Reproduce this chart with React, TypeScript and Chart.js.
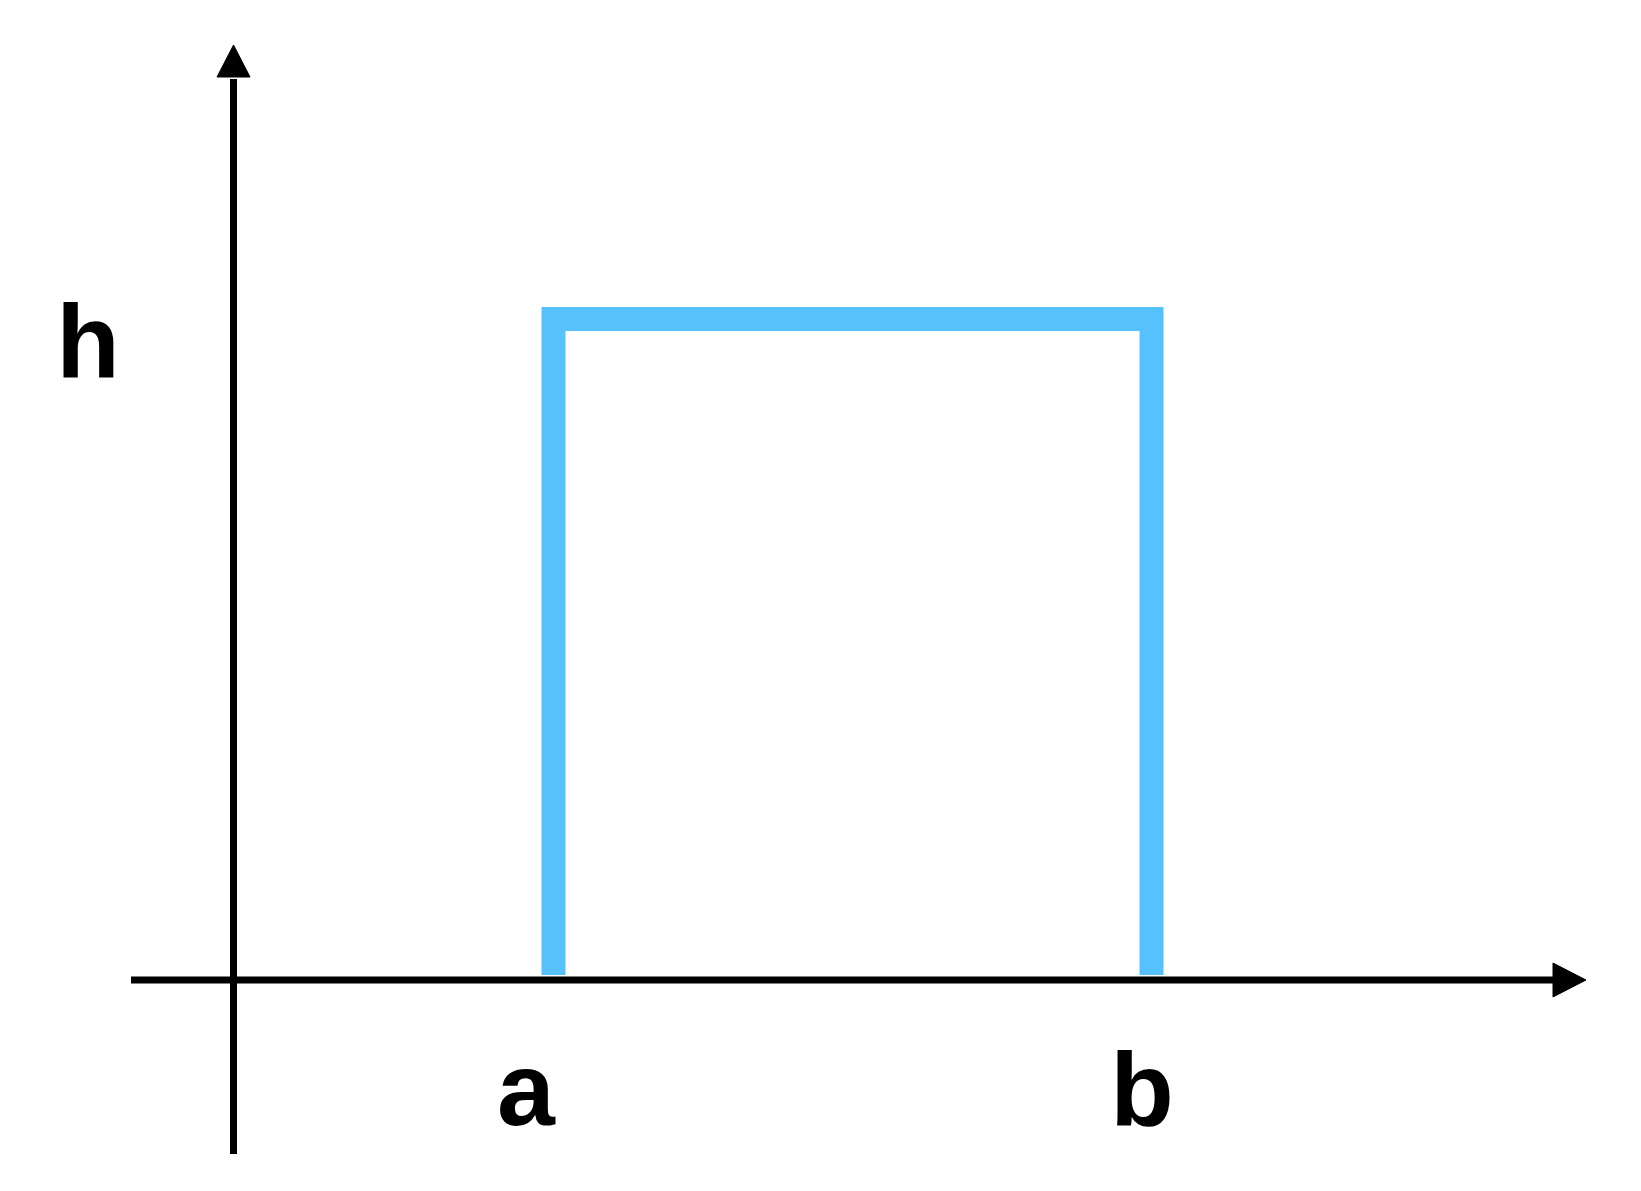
import React, { useEffect, useRef } from "react";
import { Chart, registerables } from "chart.js";

Chart.register(...registerables);

// Data (in abstract units)
const boundLabels = ["a", "b"];
const boundValues = [3.2, 9.18];
const heightLabel = "h";
const heightValue = 6.61;
const rectBase = 0.05;

// Axis extents
const xAxisStart = -1.025;
const xAxisEnd = 13.525;
const yAxisStart = -1.74;
const yAxisEnd = 9.35;

// Arrow heads (length, half-width) in data units
const xArrowLen = 0.33;
const xArrowHalf = 0.17;
const yArrowLen = 0.32;
const yArrowHalf = 0.165;

// Label anchor positions (data units)
const labelX = [2.925, 9.085];
const labelY = [-1.45, -1.45];
const hLabelX = -1.455;
const hLabelY = 6.03;

const BLUE = "#57C1FD";

const labelPlugin = {
  id: "labels",
  afterDatasetsDraw(chart: any) {
    const { ctx, scales } = chart;
    ctx.save();
    ctx.fillStyle = "#000";
    ctx.font = "bold 104px 'Liberation Sans', Arial, sans-serif";
    ctx.textAlign = "center";
    ctx.textBaseline = "alphabetic";
    boundLabels.forEach((t, i) => {
      ctx.fillText(t, scales.x.getPixelForValue(labelX[i]), scales.y.getPixelForValue(labelY[i]));
    });
    ctx.fillText(heightLabel, scales.x.getPixelForValue(hLabelX), scales.y.getPixelForValue(hLabelY));
    ctx.restore();
  },
};

export default function App() {
  const ref = useRef<HTMLCanvasElement>(null);
  useEffect(() => {
    if (!ref.current) return;
    const xBase = xAxisEnd - xArrowLen;
    const yBase = yAxisEnd - yArrowLen;
    const chart = new Chart(ref.current, {
      type: "line",
      data: {
        datasets: [
          {
            data: [
              { x: boundValues[0], y: rectBase },
              { x: boundValues[0], y: heightValue },
              { x: boundValues[1], y: heightValue },
              { x: boundValues[1], y: rectBase },
            ],
            borderColor: BLUE,
            borderWidth: 24,
            borderJoinStyle: "miter",
            borderCapStyle: "butt",
            pointRadius: 0,
            fill: false,
            tension: 0,
          },
          {
            data: [
              { x: xAxisStart, y: 0 },
              { x: xBase + 0.02, y: 0 },
            ],
            borderColor: "#000",
            borderWidth: 7,
            borderCapStyle: "butt",
            pointRadius: 0,
            fill: false,
            clip: false,
          },
          {
            data: [
              { x: 0, y: yAxisStart },
              { x: 0, y: yBase - 0.02 },
            ],
            borderColor: "#000",
            borderWidth: 7,
            borderCapStyle: "butt",
            pointRadius: 0,
            fill: false,
            clip: false,
          },
          {
            data: [
              { x: xBase, y: xArrowHalf },
              { x: xAxisEnd, y: 0 },
              { x: xBase, y: -xArrowHalf },
              { x: xBase, y: xArrowHalf },
            ],
            borderColor: "#000",
            backgroundColor: "#000",
            borderWidth: 1,
            pointRadius: 0,
            fill: "shape",
            clip: false,
          },
          {
            data: [
              { x: -yArrowHalf, y: yBase },
              { x: 0, y: yAxisEnd },
              { x: yArrowHalf, y: yBase },
              { x: -yArrowHalf, y: yBase },
            ],
            borderColor: "#000",
            backgroundColor: "#000",
            borderWidth: 1,
            pointRadius: 0,
            fill: "shape",
            clip: false,
          },
        ],
      },
      options: {
        animation: false,
        responsive: false,
        layout: { padding: { left: 131, right: 55, top: 45, bottom: 37 } },
        plugins: { legend: { display: false }, tooltip: { enabled: false }, filler: { propagate: false } },
        events: [],
        scales: {
          x: { type: "linear", min: xAxisStart, max: xAxisEnd, display: false },
          y: { type: "linear", min: yAxisStart, max: yAxisEnd, display: false },
        },
      } as any,
      plugins: [labelPlugin],
    });
    return () => chart.destroy();
  }, []);
  return (
    <canvas
      ref={ref}
      width={1641}
      height={1191}
      style={{ position: "absolute", left: 0, top: 0, width: 1641, height: 1191, display: "block", background: "#fff" }}
    />
  );
}
